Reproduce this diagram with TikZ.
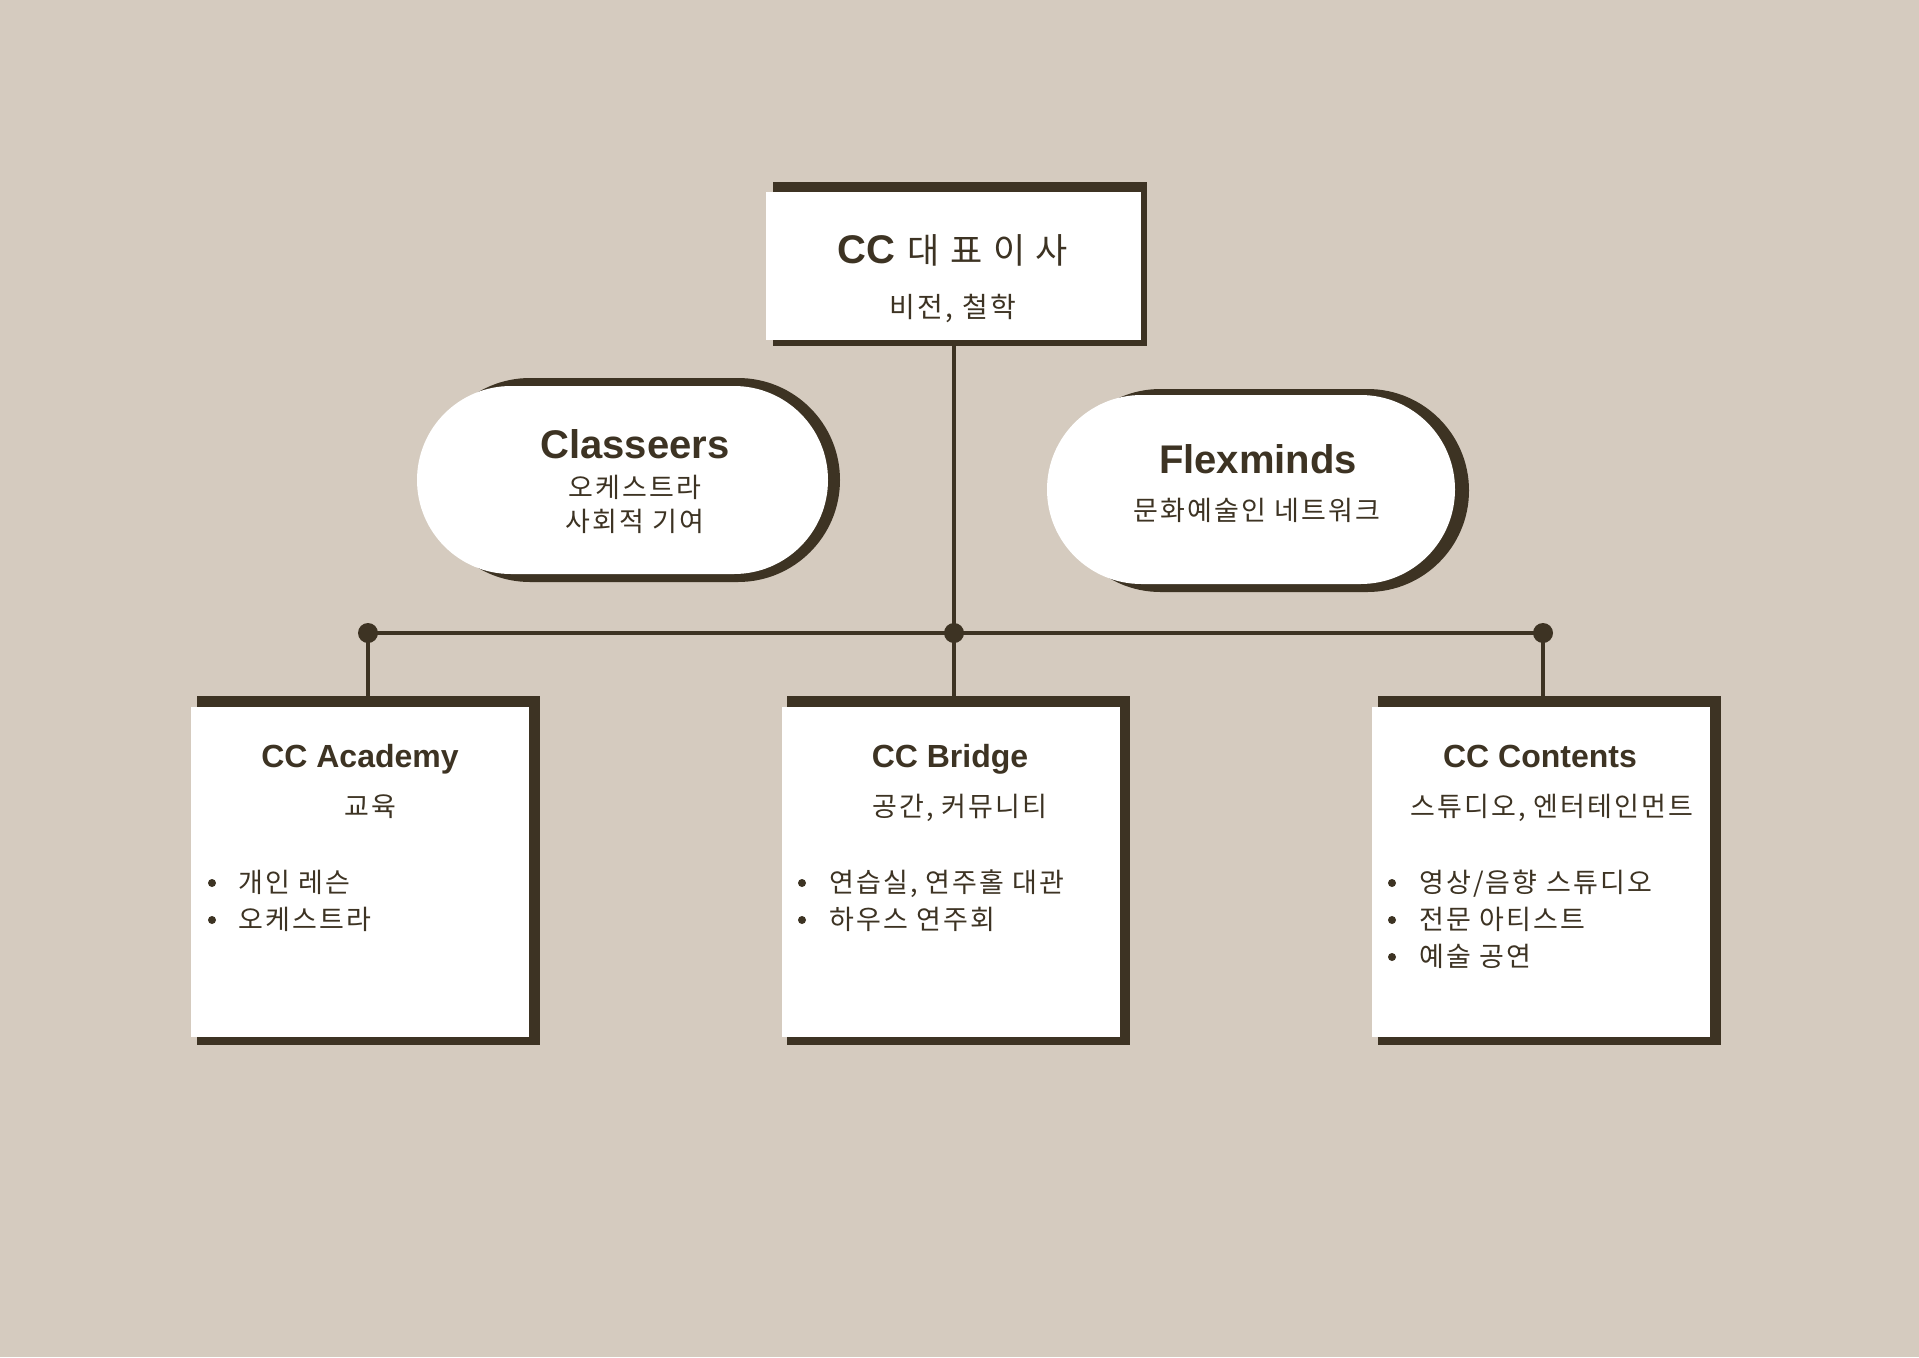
\documentclass[tikz,border=0pt]{standalone}
\usepackage{fontspec}
\setmainfont{Noto Sans CJK KR}[LetterSpace=8]
\newfontfamily\lat{Liberation Sans}
\newfontfamily\krwide{Noto Sans CJK KR}[LetterSpace=30]
\definecolor{bg}{HTML}{D5CBBF}
\definecolor{ink}{HTML}{3D3323}
\newcommand\myfs[1]{\fontsize{#1}{#1}\selectfont}
\begin{document}
\begin{tikzpicture}[x=1pt,y=-1pt,
  whitebox/.style={rectangle,fill=white,draw=none,inner sep=0pt},
  shadow/.style={rectangle,fill=ink,draw=none,inner sep=0pt},
  conn/.style={draw=ink,line width=4pt},
  dot/.style={circle,fill=ink,inner sep=0pt,minimum size=20pt},
  ttl/.style={anchor=base,inner sep=0pt,text=ink,font=\lat\bfseries\myfs{32}},
  big/.style={anchor=base,inner sep=0pt,text=ink,font=\lat\bfseries\myfs{40}},
  kr/.style={anchor=base,inner sep=0pt,text=ink,font=\myfs{27}},
  item/.style={anchor=base west,inner sep=0pt,text=ink,font=\myfs{27}},
  bul/.style={circle,fill=ink,inner sep=0pt,minimum size=8pt}]
\fill[bg] (0,0) rectangle (1919,1357);
\useasboundingbox (0,0) rectangle (1919,1357);
% CEO box
\node[shadow,minimum width=374,minimum height=164] (ceoS) at (960,264) {};
\node[whitebox,minimum width=375,minimum height=148] (ceo) at (953.5,266) {};
\node[anchor=base,inner sep=0pt,text=ink] (ceoT) at (953,263) {{\lat\bfseries\myfs{40}CC}\hspace{12pt}{\krwide\myfs{35}대표이사}};
\node[kr,font=\myfs{28}] (ceoSub) at (953,317) {비전, 철학};
% pills
\node[shadow,rounded corners=102,minimum width=412,minimum height=204] (clsS) at (634,480) {};
\node[whitebox,rounded corners=94,minimum width=411,minimum height=188] (cls) at (622.5,480) {};
\node[big] (clsT) at (635,458) {Classeers};
\node[kr] (clsA) at (635,497.5) {오케스트라};
\node[kr] (clsB) at (635,531.5) {사회적 기여};
\node[shadow,rounded corners=101.5,minimum width=410,minimum height=203] (flxS) at (1264,490.5) {};
\node[whitebox,rounded corners=94.5,minimum width=408,minimum height=189] (flx) at (1251,489.5) {};
\node[big] (flxT) at (1258,473) {Flexminds};
\node[kr] (flxA) at (1257,520) {문화예술인 네트워크};
% lower boxes
\node[shadow,minimum width=343,minimum height=349] (acaS) at (368.5,870.5) {};
\node[whitebox,minimum width=338,minimum height=330] (aca) at (360,872) {};
\node[shadow,minimum width=343,minimum height=349] (brgS) at (958.5,870.5) {};
\node[whitebox,minimum width=338,minimum height=330] (brg) at (951,872) {};
\node[shadow,minimum width=343,minimum height=349] (cntS) at (1549.5,870.5) {};
\node[whitebox,minimum width=338,minimum height=330] (cnt) at (1541,872) {};
% connectors
\coordinate (jl) at (368,633);
\coordinate (jm) at (954,633);
\coordinate (jr) at (1543,633);
\draw[conn] (ceoS.south -| jm) -- (jm);
\draw[conn] (jl) -- (jr);
\draw[conn] (jl) -- (jl |- acaS.north);
\draw[conn] (jm) -- (jm |- brgS.north);
\draw[conn] (jr) -- (jr |- cntS.north);
\node[dot] (dl) at (jl) {};
\node[dot] (dm) at (jm) {};
\node[dot] (dr) at (jr) {};
% academy text
\node[ttl] (acaT) at (360,767) {CC Academy};
\node[kr] (acaSub) at (370,816) {교육};
\node[bul] (acaB1) at (212,883) {};
\node[item] (acaI1) at (238,892) {개인 레슨};
\node[bul] (acaB2) at (212,920) {};
\node[item] (acaI2) at (238,929) {오케스트라};
% bridge text
\node[ttl] (brgT) at (950,767) {CC Bridge};
\node[kr] (brgSub) at (960,816) {공간, 커뮤니티};
\node[bul] (brgB1) at (802,883) {};
\node[item] (brgI1) at (829,892) {연습실, 연주홀 대관};
\node[bul] (brgB2) at (802,920) {};
\node[item] (brgI2) at (829,929) {하우스 연주회};
% contents text
\node[ttl] (cntT) at (1540,767) {CC Contents};
\node[kr] (cntSub) at (1552,816) {스튜디오, 엔터테인먼트};
\node[bul] (cntB1) at (1392,883) {};
\node[item] (cntI1) at (1419,892) {영상/음향 스튜디오};
\node[bul] (cntB2) at (1392,920) {};
\node[item] (cntI2) at (1419,929) {전문 아티스트};
\node[bul] (cntB3) at (1392,957) {};
\node[item] (cntI3) at (1419,966) {예술 공연};
\end{tikzpicture}
\end{document}
